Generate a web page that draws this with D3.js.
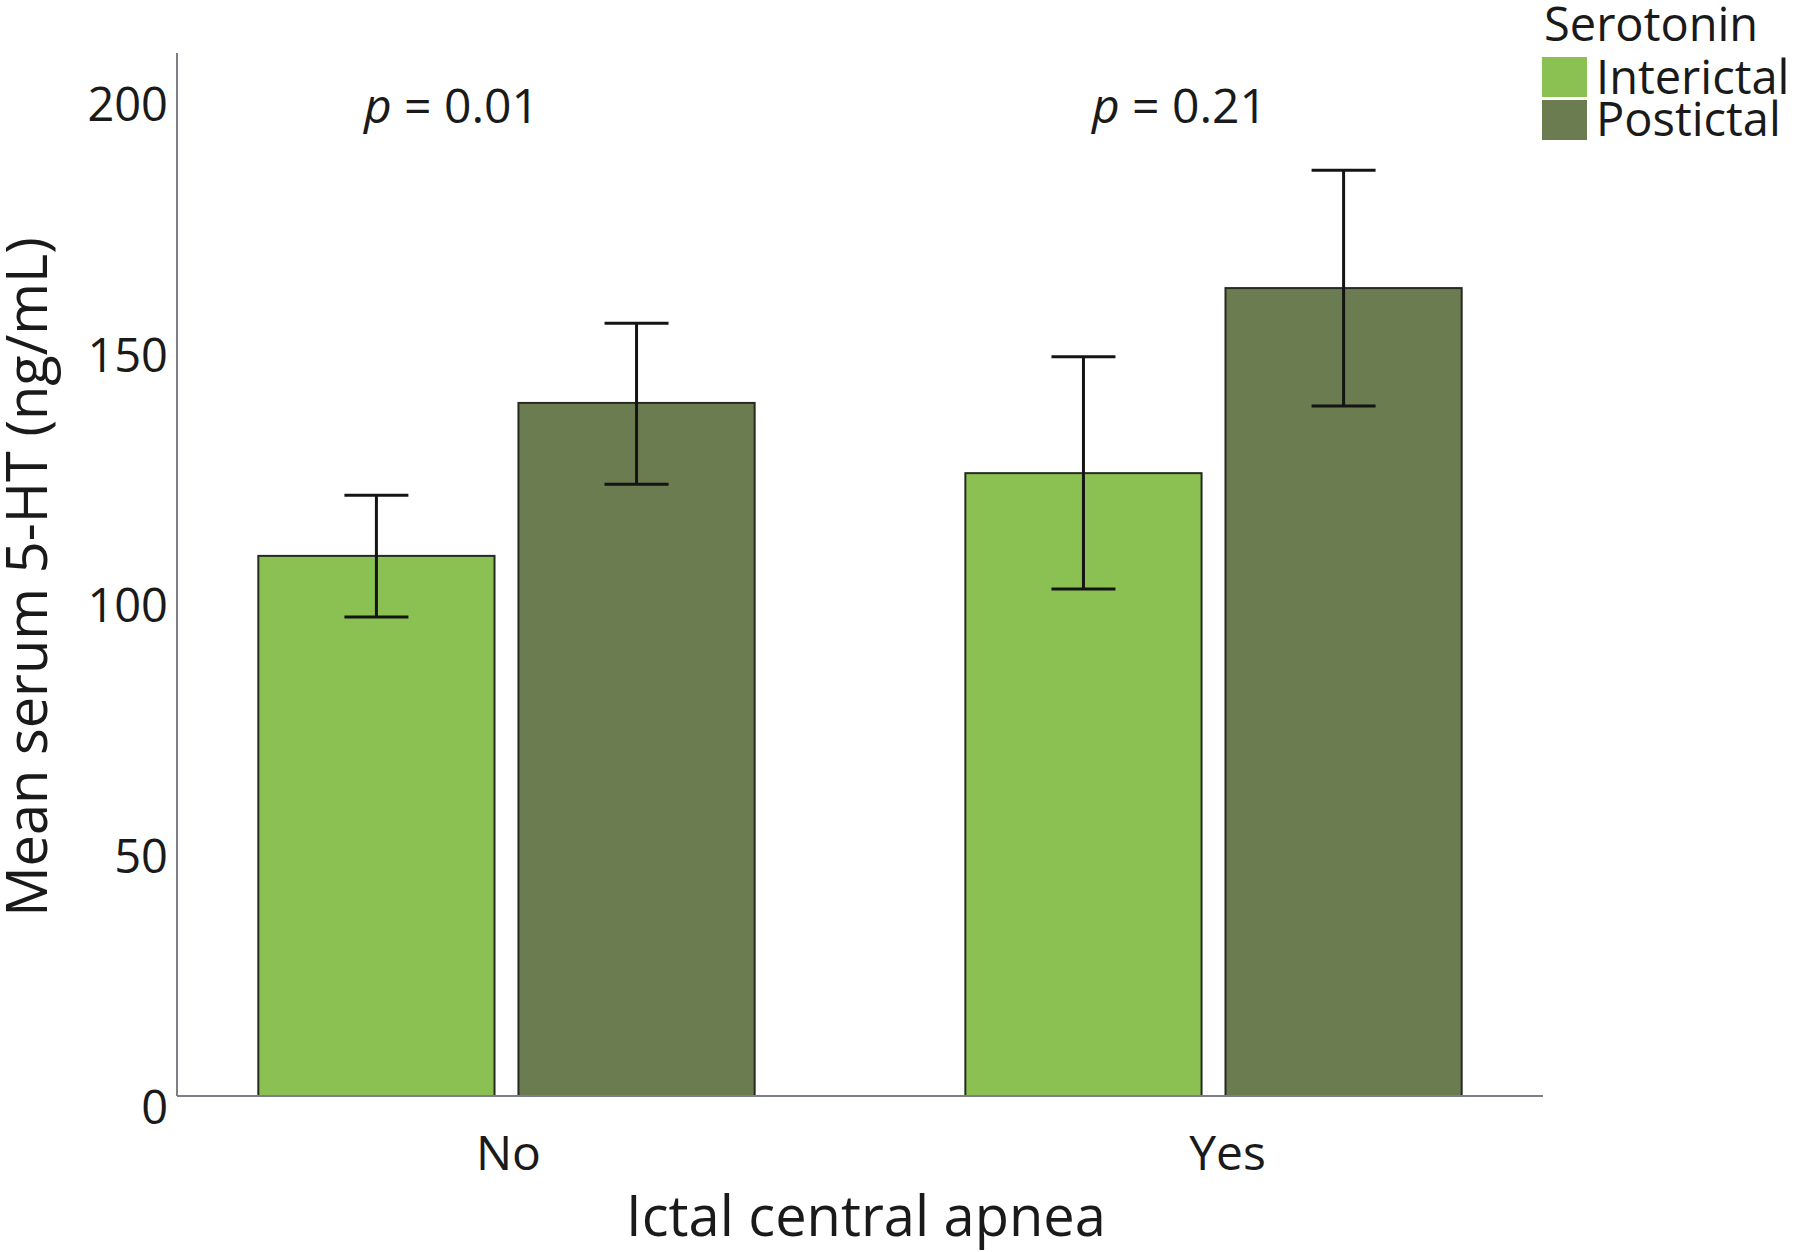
<!DOCTYPE html>
<html>
<head>
<meta charset="utf-8">
<script src="https://cdn.jsdelivr.net/npm/d3@7"></script>
<style>
  html, body { margin: 0; padding: 0; background: #ffffff; }
  svg { display: block; font-family: "Open Sans", "Noto Sans", sans-serif; }
</style>
</head>
<body>
<svg id="chart" width="1800" height="1252"></svg>
<script>
// ---- data ----
const categories = ["No", "Yes"];
const seriesNames = ["Interictal", "Postictal"];
const interictalMean = [107.7, 124.2];
const interictalLow  = [95.5, 101.1];
const interictalHigh = [119.8, 147.4];
const postictalMean  = [138.2, 161.1];
const postictalLow   = [122.0, 137.6];
const postictalHigh  = [154.1, 184.6];
const yTicks = [0, 50, 100, 150, 200];
const pLabels = ["0.01", "0.21"];
const colors = ["#8bc152", "#6a7c50"];

// layout constants
const pLabelDx = [75, 96];
const xLabelDx = [2, 14];

const svg = d3.select("#chart");
const plotLeft = 177, plotRight = 1543, plotTop = 53, plotBottom = 1096;

const y = d3.scaleLinear().domain([0, 200]).range([plotBottom, plotBottom - 1003]);
const x0 = d3.scaleBand().domain(categories).range([plotLeft, plotRight])
  .paddingInner(0.298).paddingOuter(0.115);
const x1 = d3.scaleBand().domain(seriesNames).range([0, x0.bandwidth()])
  .paddingInner(0.092).paddingOuter(0);

const data = [];
categories.forEach((c, i) => {
  data.push({cat: c, s: "Interictal", mean: interictalMean[i], lo: interictalLow[i], hi: interictalHigh[i]});
  data.push({cat: c, s: "Postictal", mean: postictalMean[i], lo: postictalLow[i], hi: postictalHigh[i]});
});
const color = d3.scaleOrdinal().domain(seriesNames).range(colors);

// bars
svg.append("g").selectAll("rect").data(data).join("rect")
  .attr("x", d => x0(d.cat) + x1(d.s))
  .attr("y", d => y(d.mean))
  .attr("width", x1.bandwidth())
  .attr("height", d => y(0) - y(d.mean))
  .attr("fill", d => color(d.s))
  .attr("stroke", "#262b22")
  .attr("stroke-width", 2);

// error bars
const capW = 64;
const eg = svg.append("g").attr("stroke", "#141414").attr("stroke-width", 3);
data.forEach(d => {
  const cx = x0(d.cat) + x1(d.s) + x1.bandwidth() / 2;
  eg.append("line").attr("x1", cx).attr("x2", cx).attr("y1", y(d.hi)).attr("y2", y(d.lo));
  eg.append("line").attr("x1", cx - capW/2).attr("x2", cx + capW/2).attr("y1", y(d.hi)).attr("y2", y(d.hi));
  eg.append("line").attr("x1", cx - capW/2).attr("x2", cx + capW/2).attr("y1", y(d.lo)).attr("y2", y(d.lo));
});

// axes
const yAxis = d3.axisLeft(y).tickValues(yTicks).tickSize(0).tickPadding(9);
const gy = svg.append("g").attr("transform", `translate(${plotLeft},0)`).call(yAxis);
gy.select(".domain").remove();
gy.selectAll("text").attr("font-size", 47).attr("fill", "#1a1a1a")
  .attr("font-family", "'Open Sans', sans-serif").attr("dy", "0.58em");

svg.append("line").attr("x1", plotLeft).attr("x2", plotLeft).attr("y1", plotTop).attr("y2", plotBottom)
  .attr("stroke", "#7c7f86").attr("stroke-width", 2);
svg.append("line").attr("x1", plotLeft).attr("x2", plotRight).attr("y1", plotBottom).attr("y2", plotBottom)
  .attr("stroke", "#7c7f86").attr("stroke-width", 2);

const xAxis = d3.axisBottom(x0).tickSize(0).tickPadding(40);
const gx = svg.append("g").attr("transform", `translate(0,${plotBottom})`).call(xAxis);
gx.select(".domain").remove();
gx.selectAll("text").attr("font-size", 48).attr("fill", "#1a1a1a")
  .attr("font-family", "'Open Sans', sans-serif")
  .attr("dx", (d, i) => xLabelDx[i]);

// axis titles
svg.append("text").attr("x", 866).attr("y", 1236).attr("text-anchor", "middle")
  .attr("font-size", 56).attr("fill", "#1a1a1a").text("Ictal central apnea");
svg.append("text").attr("transform", "translate(47,577) rotate(-90)").attr("text-anchor", "middle")
  .attr("font-size", 56).attr("fill", "#1a1a1a").text("Mean serum 5-HT (ng/mL)");

// p-values
categories.forEach((c, i) => {
  const t = svg.append("text").attr("x", x0(c) + x1("Interictal") + x1.bandwidth() / 2 + pLabelDx[i])
    .attr("y", 123).attr("text-anchor", "middle").attr("font-size", 48).attr("fill", "#1a1a1a");
  t.append("tspan").attr("font-style", "italic").text("p");
  t.append("tspan").text(" = " + pLabels[i]);
});

// legend
const lg = svg.append("g");
lg.append("text").attr("x", 1544).attr("y", 41).attr("font-size", 47).attr("fill", "#1a1a1a").text("Serotonin");
seriesNames.forEach((s, i) => {
  lg.append("rect").attr("x", 1542).attr("y", 57 + i * 43).attr("width", 45).attr("height", 40).attr("fill", colors[i]);
  lg.append("text").attr("x", 1596).attr("y", 94 + i * 42).attr("font-size", 47).attr("fill", "#1a1a1a").text(s);
});
</script>
</body>
</html>
